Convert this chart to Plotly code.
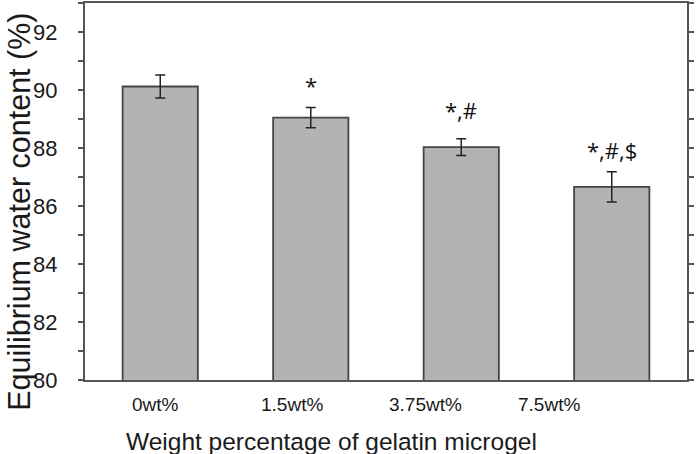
import plotly.graph_objects as go

categories = ["0wt%", "1.5wt%", "3.75wt%", "7.5wt%"]
water_content = [90.12, 89.05, 88.03, 86.66]
error = [0.40, 0.35, 0.29, 0.52]
significance = ["", "*", "*,#", "*,#,$"]
y_tick_vals = list(range(80, 94))
y_tick_text = [str(v) if v % 2 == 0 and v <= 92 else "" for v in y_tick_vals]

x_idx = list(range(len(categories)))

fig = go.Figure()
fig.add_trace(go.Bar(
    x=x_idx, y=water_content, width=0.5,
    marker=dict(color="#b3b3b3", line=dict(color="#454545", width=1.8)),
    error_y=dict(type="data", array=error, color="#222222", thickness=1.5, width=5),
    showlegend=False,
))

AX = dict(family="Liberation Sans, Arial, sans-serif", color="#1a1a1a")

annotations = []
sig_shift = [0, 5, 12, 5]
for i, s in enumerate(significance):
    if s:
        annotations.append(dict(
            x=i, y=water_content[i] + error[i], xref="x", yref="y",
            text=s, showarrow=False, yanchor="bottom", yshift=sig_shift[i],
            font=dict(family="Open Sans, sans-serif", size=22, color="#111111"),
        ))

# category labels (left aligned, as in the original)
for i, c in enumerate(categories):
    annotations.append(dict(
        x=(45 + 128.5 * i) / 602, y=-0.066, xref="paper", yref="paper",
        text=c, showarrow=False, xanchor="left", yanchor="middle",
        font=dict(AX, size=19),
    ))

annotations.append(dict(
    x=0.409, y=-0.162, xref="paper", yref="paper",
    text="Weight percentage of gelatin microgel", showarrow=False,
    xanchor="center", yanchor="middle", font=dict(AX, size=24.5),
))
annotations.append(dict(
    x=-0.109, y=0.447, xref="paper", yref="paper",
    text="Equilibrium water content (%)", showarrow=False, textangle=-90,
    xanchor="center", yanchor="middle", font=dict(AX, size=30.5),
))

fig.update_layout(
    width=698, height=454,
    margin=dict(l=85, r=11, t=1, b=74),
    paper_bgcolor="white", plot_bgcolor="white",
    annotations=annotations,
    xaxis=dict(
        range=[-0.5, 3.5], showticklabels=False, ticks="",
        showline=True, mirror=True, linecolor="#555555", linewidth=2,
        showgrid=False, zeroline=False,
    ),
    yaxis=dict(
        range=[80, 93], tickmode="array", tickvals=y_tick_vals, ticktext=y_tick_text,
        ticks="outside", ticklen=5, tickwidth=1.5, tickcolor="#555555",
        showline=True, mirror="ticks", linecolor="#555555", linewidth=2,
        showgrid=False, zeroline=False, ticklabelstandoff=16,
        tickfont=dict(AX, size=22),
    ),
)

fig.write_html(
    "out.html",
    config={"displayModeBar": False},
    post_script="document.body.style.margin='0';document.body.style.overflow='hidden';",
)
